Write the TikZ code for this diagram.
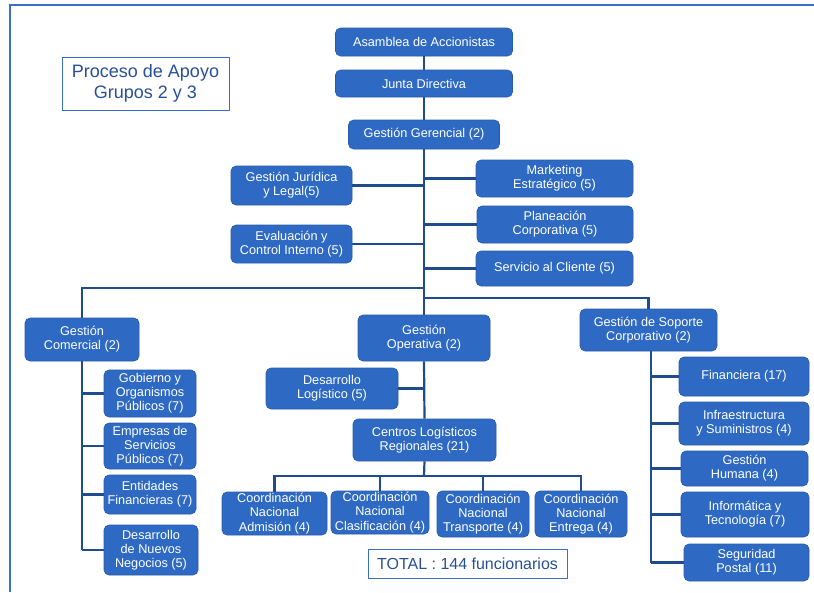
\documentclass[tikz,border=0pt]{standalone}
\usepackage{fontspec}
\setmainfont{Liberation Sans}
\definecolor{boxblue}{RGB}{46,106,196}
\definecolor{boxedge}{RGB}{38,90,170}
\definecolor{linkblue}{RGB}{30,76,140}
\definecolor{framblue}{RGB}{58,112,200}
\definecolor{titleblue}{RGB}{40,80,150}
\begin{document}
\begin{tikzpicture}[x=1pt,y=-1pt,
  box/.style={draw=boxedge, line width=0.6pt, fill=boxblue, rounded corners=5pt, text=white,
    align=center, inner sep=1pt, font=\fontsize{12.7}{14.2}\selectfont},
  link/.style={draw=linkblue, line width=2.2pt},
  titlebox/.style={draw=framblue, line width=0.9pt, fill=white, text=titleblue, align=center, inner sep=2pt}]
\useasboundingbox (0,0) rectangle (814,592);
% frame
\draw[framblue, line width=2.6pt] (10,592) -- (10,5) -- (814,5);
% title
\node[titlebox, minimum width=167pt, minimum height=53pt, font=\fontsize{18}{21}\selectfont] (title) at (145.5,83.5) {Proceso de Apoyo\\Grupos 2 y 3};
\node[titlebox, minimum width=199pt, minimum height=29pt, font=\fontsize{16}{18}\selectfont] (total) at (467.5,563.5) {TOTAL : 144 funcionarios};
% top chain
\node[box, minimum width=177pt, minimum height=28pt] (asam) at (424,42) {Asamblea de Accionistas};
\node[box, minimum width=177pt, minimum height=27pt] (junta) at (424,83.5) {Junta Directiva};
\node[box, minimum width=151pt, minimum height=29pt] (ger) at (424,134.5) {Gestión Gerencial (2)};
% side staff
\node[box, minimum width=121pt, minimum height=39pt] (jur) at (291.5,185.5) {Gestión Jurídica\\y Legal(5)};
\node[box, minimum width=121pt, minimum height=38pt] (eva) at (291.5,244) {Evaluación y\\Control Interno (5)};
\node[box, minimum width=157pt, minimum height=37pt] (mkt) at (554.5,178.5) {Marketing\\Estratégico (5)};
\node[box, minimum width=156pt, minimum height=37pt] (pla) at (555,224.5) {Planeación\\Corporativa (5)};
\node[box, minimum width=157pt, minimum height=35pt] (ser) at (554.5,268.5) {Servicio al Cliente (5)};
% level 2
\node[box, minimum width=114pt, minimum height=43pt] (com) at (82,339.5) {Gestión\\Comercial (2)};
\node[box, minimum width=132pt, minimum height=46pt] (ope) at (424,338) {Gestión\\Operativa (2)};
\node[box, minimum width=137pt, minimum height=42pt] (sop) at (648.5,330) {Gestión de Soporte\\Corporativo (2)};
% comercial children
\node[box, minimum width=92pt, minimum height=47pt] (gob) at (150,393.5) {Gobierno y\\Organismos\\Públicos (7)};
\node[box, minimum width=92pt, minimum height=46pt] (emp) at (150,446) {Empresas de\\Servicios\\Públicos (7)};
\node[box, minimum width=92pt, minimum height=39pt] (fin) at (150,494.5) {Entidades\\Financieras (7)};
\node[box, minimum width=94pt, minimum height=50pt] (neg) at (151,550) {Desarrollo\\de Nuevos\\Negocios (5)};
% operativa children
\node[box, minimum width=132pt, minimum height=41pt] (dlog) at (332,388.5) {Desarrollo\\Logístico (5)};
\node[box, minimum width=143pt, minimum height=42pt] (cen) at (424.5,440) {Centros Logísticos\\Regionales (21)};
\node[box, minimum width=105pt, minimum height=43pt] (adm) at (274.5,513.5) {Coordinación\\Nacional\\Admisión (4)};
\node[box, minimum width=98pt, minimum height=43pt] (cla) at (380,512.5) {Coordinación\\Nacional\\Clasificación (4)};
\node[box, minimum width=92pt, minimum height=46pt] (tra) at (483,514) {Coordinación\\Nacional\\Transporte (4)};
\node[box, minimum width=92pt, minimum height=46pt] (ent) at (581,514) {Coordinación\\Nacional\\Entrega (4)};
% soporte children
\node[box, minimum width=130pt, minimum height=39pt] (fina) at (744,376.5) {Financiera (17)};
\node[box, minimum width=130pt, minimum height=43pt] (inf) at (744,423.5) {Infraestructura\\y Suministros (4)};
\node[box, minimum width=127pt, minimum height=35pt] (hum) at (744.5,468.5) {Gestión\\Humana (4)};
\node[box, minimum width=128pt, minimum height=45pt] (inft) at (745,514.5) {Informática y\\Tecnología (7)};
\node[box, minimum width=125pt, minimum height=37pt] (seg) at (746.5,562.5) {Seguridad\\Postal (11)};
% junction coordinates
\coordinate (jl) at (424,288);
\coordinate (jr) at (424,298);
\coordinate (cb) at (424,476);
\coordinate (sv) at (651,351);
% connectors
\begin{scope}[link]
\draw (asam) -- (junta);
\draw (junta) -- (ger);
\draw (ger.south) -- (ope.north);
\draw (jur.east) -- (jur.east -| ger.south);
\draw (eva.east) -- (eva.east -| ger.south);
\draw (mkt.west) -- (mkt.west -| ger.south);
\draw (pla.west) -- (pla.west -| ger.south);
\draw (ser.west) -- (ser.west -| ger.south);
\draw (jl) -| (com.north);
\draw (jr) -| (sop.north);
% comercial
\draw (com.south) -- (com.south |- neg.west);
\draw (gob.west) -- (gob.west -| com.south);
\draw (emp.west) -- (emp.west -| com.south);
\draw (fin.west) -- (fin.west -| com.south);
\draw (neg.west) -- (neg.west -| com.south);
% operativa
\draw (ope.south) -- (cen.north);
\draw (dlog.east) -- (dlog.east -| ope.south);
\draw (cen.south) -- (cb);
\draw (adm.north) |- (cb);
\draw (ent.north) |- (cb);
\draw (cla.north) -- (cla.north |- cb);
\draw (tra.north) -- (tra.north |- cb);
% soporte
\draw (sv) -- (sv |- seg.west);
\draw (fina.west) -- (fina.west -| sv);
\draw (inf.west) -- (inf.west -| sv);
\draw (hum.west) -- (hum.west -| sv);
\draw (inft.west) -- (inft.west -| sv);
\draw (seg.west) -- (seg.west -| sv);
\end{scope}
\end{tikzpicture}
\end{document}
